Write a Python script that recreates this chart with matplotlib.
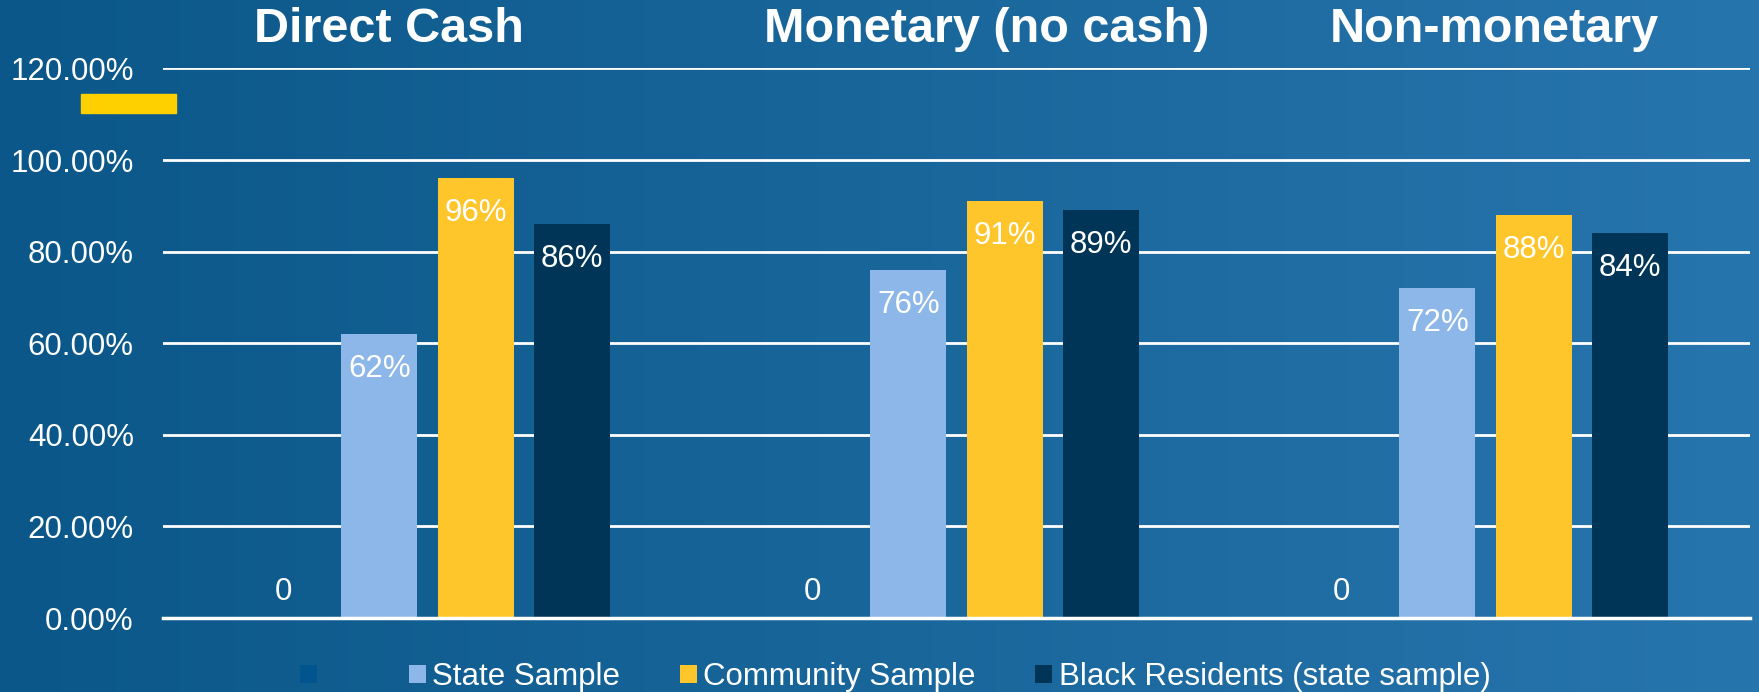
import numpy as np
import matplotlib.pyplot as plt
from matplotlib.patches import Rectangle
from matplotlib.ticker import FuncFormatter
from matplotlib.colors import LinearSegmentedColormap

plt.rcParams['font.family'] = ['Liberation Sans', 'DejaVu Sans']

# data
categories = ['Direct Cash', 'Monetary (no cash)', 'Non-monetary']
series_names = ['   ', 'State Sample', 'Community Sample', 'Black Residents (state sample)']
blank = [0, 0, 0]
state = [0.62, 0.76, 0.72]
community = [0.96, 0.91, 0.88]
black = [0.86, 0.89, 0.84]
colors = ['#00558F', '#8DB7E8', '#FFC62B', '#003557']

fig = plt.figure(figsize=(17.59, 6.92), dpi=100)

# background gradient, dark blue on the left to lighter blue on the right
bg = fig.add_axes([0, 0, 1, 1], zorder=-10)
grad = np.linspace(0, 1, 256).reshape(1, -1)
cmap = LinearSegmentedColormap.from_list('bg', ['#0B5789', '#2775AD'])
bg.imshow(grad, aspect='auto', cmap=cmap, extent=[0, 1, 0, 1])
bg.set_axis_off()
# yellow accent bar
bg.add_patch(Rectangle((81 / 1759, 1 - 113 / 692), 95 / 1759, 19 / 692,
                       color='#FFD000', transform=bg.transAxes))

ax = fig.add_axes([163 / 1759, 74 / 692, (1750 - 163) / 1759, (618 - 68.4) / 692])
ax.set_facecolor('none')

x = np.arange(len(categories))
step = 0.182
width = 0.144
all_series = [blank, state, community, black]
handles = []
for i, (vals, c) in enumerate(zip(all_series, colors)):
    pos = x + (i - 1.5) * step
    bars = ax.bar(pos, vals, width, color=c, zorder=3)
    handles.append(bars)
    for p, v in zip(pos, vals):
        if v == 0:
            ax.annotate('0', (p, v), xytext=(0, 19), textcoords='offset points',
                        ha='center', va='center', color='white', fontsize=22.5)
        else:
            ax.annotate(f'{v:.0%}', (p, v), xytext=(0, -25), textcoords='offset points',
                        ha='center', va='center', color='white', fontsize=22.5, zorder=4)

ax.set_ylim(0, 1.2)
ax.set_xlim(-0.5, 2.5)
ax.set_yticks(np.arange(0, 1.21, 0.2))
ax.yaxis.set_major_formatter(FuncFormatter(lambda v, _: f'{v * 100:.2f}%'))
ax.tick_params(axis='y', length=0, pad=21, labelsize=22.5, labelcolor='white')
ax.set_xticks([])
ax.grid(axis='y', color='white', linewidth=2, zorder=0)
for s in ['top', 'right', 'left']:
    ax.spines[s].set_visible(False)
ax.spines['bottom'].set_color('white')
ax.spines['bottom'].set_linewidth(2.5)
ax.spines['bottom'].set_zorder(5)

# category titles above each group
title_x = [347, 880, 1332]
for t, tx in zip(categories, title_x):
    fig.text(tx * 1.1218 / 1759, 1 - 29 / 692, t, ha='center', va='center',
             color='white', fontsize=35, fontweight='bold')

leg = fig.legend(handles, series_names, loc='center',
                 bbox_to_anchor=(0.509, 1 - 677 / 692), ncol=4,
                 frameon=False, fontsize=22.5, labelcolor='white',
                 handlelength=0.55, handleheight=0.55, handletextpad=0.2,
                 columnspacing=1.9)

fig.savefig('out.png', dpi=100)
